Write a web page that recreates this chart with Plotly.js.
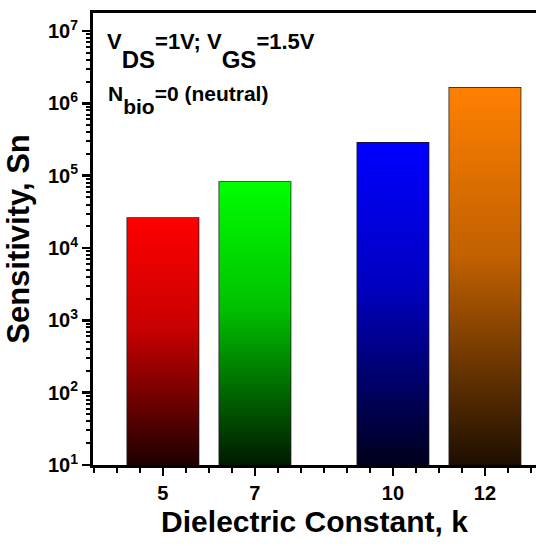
<!DOCTYPE html>
<html>
<head>
<meta charset="utf-8">
<script src="https://cdn.plot.ly/plotly-3.0.1.min.js"></script>
<style>
  html, body { margin: 0; padding: 0; background: #fff; overflow: hidden; }
  #chart { width: 536px; height: 546px; }
</style>
</head>
<body>
<div id="chart"></div>
<script>
// Dielectric constant of the gate dielectric and the resulting sensitivity
const dielectricK = [5, 7, 10, 12];
const sensitivity = [2.6e4, 8.2e4, 2.85e5, 1.64e6];
// Each bar fades from its bright colour at the top to near black at the base
const barTopColors = ['#ff0000', '#00ff00', '#0000ff', '#ff8000'];
const barMidColors = ['#c80000', '#00c000', '#0000c0', '#c06000'];
const barBaseColors = ['#1e0000', '#001a00', '#00001c', '#1c0e00'];
// Axis ticks
const xTickVals = [5, 7, 10, 12];
const yExponents = [1, 2, 3, 4, 5, 6, 7];

const FONT = 'Liberation Sans, Arial, Helvetica, sans-serif';
const BAR_WIDTH = 1.55;
const Y_RANGE_LOG = [1, 7.25];
const yFloor = Math.pow(10, Y_RANGE_LOG[0]);

const traces = [];

// Gradient-filled bodies of the bars
dielectricK.forEach((k, i) => {
  const x0 = k - BAR_WIDTH / 2, x1 = k + BAR_WIDTH / 2;
  traces.push({
    type: 'scatter',
    mode: 'lines',
    x: [x0, x0, x1, x1, x0],
    y: [yFloor, sensitivity[i], sensitivity[i], yFloor, yFloor],
    fill: 'toself',
    fillgradient: {
      type: 'vertical',
      colorscale: [[0, barBaseColors[i]], [0.55, barMidColors[i]], [1, barTopColors[i]]]
    },
    line: { width: 0 },
    hoverinfo: 'skip',
    showlegend: false
  });
});

// Bar outlines
traces.push({
  type: 'bar',
  x: dielectricK,
  y: sensitivity,
  width: dielectricK.map(() => BAR_WIDTH),
  marker: { color: 'rgba(0,0,0,0)', line: { color: '#1a1a1a', width: 1.5 } },
  hoverinfo: 'x+y',
  showlegend: false
});

const axisFont = { family: FONT, size: 20, color: '#000', weight: 'bold' };

const layout = {
  width: 536,
  height: 546,
  margin: { l: 93, r: 0, t: 13, b: 81 },
  paper_bgcolor: '#fff',
  plot_bgcolor: '#fff',
  showlegend: false,
  font: { family: FONT, color: '#000' },
  xaxis: {
    range: [3.48, 13.11],
    tickmode: 'array',
    tickvals: xTickVals,
    ticktext: xTickVals.map(String),
    ticks: 'outside',
    ticklen: 8,
    tickwidth: 2.5,
    tickcolor: '#000',
    showline: true,
    linewidth: 3,
    linecolor: '#000',
    mirror: true,
    showgrid: false,
    zeroline: false,
    tickfont: axisFont,
    minor: { tickmode: 'linear', tick0: 3.5, dtick: 0.5, ticks: 'outside', ticklen: 5, tickwidth: 2.5, tickcolor: '#000', showgrid: false },
    title: { text: 'Dielectric Constant, k', font: { family: FONT, size: 30, weight: 'bold', color: '#000' }, standoff: 8 }
  },
  yaxis: {
    type: 'log',
    range: Y_RANGE_LOG,
    tickmode: 'array',
    tickvals: yExponents.map(e => Math.pow(10, e)),
    ticktext: yExponents.map(e => '10<sup>' + e + '</sup>'),
    ticks: 'outside',
    ticklen: 8,
    tickwidth: 2.5,
    tickcolor: '#000',
    showline: true,
    linewidth: 3,
    linecolor: '#000',
    mirror: false,
    showgrid: false,
    zeroline: false,
    tickfont: axisFont,
    minor: { dtick: 'D1', ticks: 'outside', ticklen: 4, tickwidth: 2, tickcolor: '#000', showgrid: false },
    title: { text: 'Sensitivity, Sn', font: { family: FONT, size: 31, weight: 'bold', color: '#000' }, standoff: 10 }
  },
  annotations: [
    {
      xref: 'paper', yref: 'paper', x: 0.026, y: 0.968, xanchor: 'left', yanchor: 'top',
      showarrow: false, align: 'left',
      text: 'V<span style="baseline-shift:-19px;font-size:24px">DS</span>=1V; V<span style="baseline-shift:-19px;font-size:24px">GS</span>=1.5V',
      font: { family: FONT, size: 22, weight: 'bold', color: '#000' }
    },
    {
      xref: 'paper', yref: 'paper', x: 0.03, y: 0.851, xanchor: 'left', yanchor: 'top',
      showarrow: false, align: 'left',
      text: 'N<span style="baseline-shift:-13px">bio</span>=0 (neutral)',
      font: { family: FONT, size: 21, weight: 'bold', color: '#000' }
    }
  ]
};

Plotly.newPlot('chart', traces, layout, { displayModeBar: false, staticPlot: true });
</script>
</body>
</html>
